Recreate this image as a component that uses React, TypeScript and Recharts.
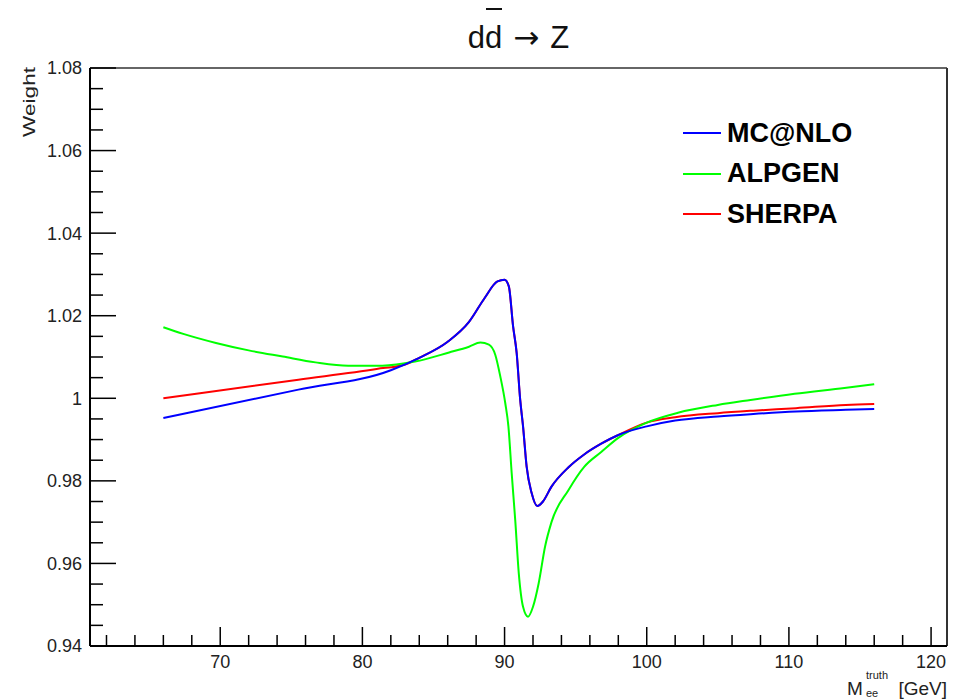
import { Legend, Line, LineChart, ReferenceLine, XAxis, YAxis } from "recharts";

const FONT = '"Liberation Sans", Arial, Helvetica, sans-serif';

const X_DOMAIN = [60.84, 121.12];
const Y_DOMAIN = [0.94, 1.08];
const X_MAJOR = [70, 80, 90, 100, 110, 120];
const X_MINOR = [62, 64, 66, 68, 72, 74, 76, 78, 82, 84, 86, 88, 92, 94, 96, 98, 102, 104, 106, 108, 112, 114, 116, 118];
const Y_MAJOR = [0.94, 0.96, 0.98, 1.0, 1.02, 1.04, 1.06, 1.08];
const Y_MINOR = [
  0.945, 0.95, 0.955, 0.965, 0.97, 0.975, 0.985, 0.99, 0.995, 1.005, 1.01, 1.015,
  1.025, 1.03, 1.035, 1.045, 1.05, 1.055, 1.065, 1.07, 1.075,
];

// MC@NLO
const MCNLO_X = [66, 75.5, 82, 84, 86, 87.5, 88.6, 89.5, 90, 90.3, 90.6, 90.85, 91.1, 91.3, 91.55, 91.9, 92.3, 92.7, 93.3, 94.5, 95.6, 96.8, 98, 100, 102, 105, 107.5, 110.5, 114, 116];
const MCNLO_Y = [0.9952, 1.0021, 1.0068, 1.0098, 1.0137, 1.0185, 1.0243, 1.0283, 1.0287, 1.0271, 1.0174, 1.011, 0.9996, 0.9932, 0.9835, 0.9771, 0.9739, 0.975, 0.9786, 0.9833, 0.9864, 0.989, 0.9911, 0.9932, 0.9946, 0.9956, 0.9962, 0.9968, 0.9972, 0.9974];

// ALPGEN
const ALPGEN_X = [66, 67.4, 69.7, 72, 74.4, 76.7, 79, 81.4, 83.7, 86.1, 87.5, 88.3, 88.9, 89.35, 89.7, 90.05, 90.27, 90.5, 90.75, 91, 91.3, 91.65, 92, 92.4, 92.85, 93.3, 94.5, 95.6, 96.8, 98, 100, 102.2, 105, 107.3, 110.4, 113.9, 116];
const ALPGEN_Y = [1.0172, 1.0156, 1.0134, 1.0116, 1.0101, 1.0087, 1.0079, 1.0079, 1.0089, 1.0111, 1.0125, 1.0135, 1.013, 1.0105, 1.0053, 0.9988, 0.9932, 0.9819, 0.9705, 0.9576, 0.9495, 0.9471, 0.9495, 0.9552, 0.9641, 0.97, 0.9778, 0.9834, 0.987, 0.9904, 0.9941, 0.9965, 0.9984, 0.9996, 1.0011, 1.0025, 1.0034];

// SHERPA (sits under MC@NLO through the peak)
const SHERPA_X = [66, 75.5, 81, 83, 84, 86, 87.5, 88.6, 89.5, 90, 90.3, 90.6, 90.85, 91.1, 91.3, 91.55, 91.9, 92.3, 92.7, 93.3, 94.5, 95.6, 96.8, 98, 100, 102, 105, 107.5, 110.5, 114, 116];
const SHERPA_Y = [1.0, 1.0045, 1.0071, 1.0082, 1.0098, 1.0137, 1.0185, 1.0243, 1.0283, 1.0287, 1.0271, 1.0174, 1.011, 0.9996, 0.9932, 0.9835, 0.9771, 0.9739, 0.975, 0.9786, 0.9833, 0.9864, 0.989, 0.9911, 0.9941, 0.9954, 0.9964, 0.997, 0.9976, 0.9984, 0.9986];

const zip = (xs: number[], ys: number[]) => xs.map((m, i) => ({ m, w: ys[i] }));

// drawn in this order: red at the bottom, blue on top
const SERIES = [
  { name: "SHERPA", color: "#ff0000", data: zip(SHERPA_X, SHERPA_Y) },
  { name: "ALPGEN", color: "#00ff00", data: zip(ALPGEN_X, ALPGEN_Y) },
  { name: "MC@NLO", color: "#0000ff", data: zip(MCNLO_X, MCNLO_Y) },
];
const LEGEND_ORDER = ["MC@NLO", "ALPGEN", "SHERPA"];

const yLabel = (v: number) => String(+v.toFixed(2));

function YTick({ x, y, payload }: any) {
  const major = Y_MAJOR.some((t) => Math.abs(t - payload.value) < 1e-9);
  return (
    <g>
      <line x1={x} x2={x + (major ? 26 : 13)} y1={y} y2={y} stroke="#000" strokeWidth={1.5} />
      {major && (
        <text x={x - 8} y={y} dy="0.36em" textAnchor="end" fontSize={18} fontFamily={FONT} fill="#222">
          {yLabel(payload.value)}
        </text>
      )}
    </g>
  );
}

function XTick({ x, y, payload }: any) {
  const major = X_MAJOR.includes(payload.value);
  return (
    <g>
      <line x1={x} x2={x} y1={y} y2={y - (major ? 19 : 11)} stroke="#000" strokeWidth={1.5} />
      {major && (
        <text x={x} y={y + 22} textAnchor="middle" fontSize={18} fontFamily={FONT} fill="#222">
          {payload.value}
        </text>
      )}
    </g>
  );
}

function XTitle({ viewBox }: any) {
  const right = viewBox.x + viewBox.width;
  const base = viewBox.y + 49;
  return (
    <g fontFamily={FONT} fill="#222">
      <text x={right - 100} y={base} fontSize={19}>M</text>
      <text x={right - 81} y={base - 16} fontSize={11}>truth</text>
      <text x={right - 81} y={base + 2} fontSize={11}>ee</text>
      <text x={right} y={base} fontSize={19} textAnchor="end">[GeV]</text>
    </g>
  );
}

function YTitle({ viewBox }: any) {
  return (
    <text
      transform={`translate(${viewBox.x + 35},${viewBox.y - 1}) rotate(-90)`}
      textAnchor="end"
      fontSize={17}
      fontFamily={FONT}
      fill="#222"
      textLength={70}
      lengthAdjust="spacingAndGlyphs"
    >
      Weight
    </text>
  );
}

function LegendBox({ payload }: any) {
  const items = LEGEND_ORDER.map((n) => (payload || []).find((p: any) => p.value === n)).filter(Boolean);
  return (
    <div style={{ fontFamily: FONT }}>
      {items.map((p: any) => (
        <div key={p.value} style={{ display: "flex", alignItems: "center", height: 40.5 }}>
          <span style={{ width: 38, height: 2, background: p.color, marginRight: 6 }} />
          <span style={{ fontSize: 27, fontWeight: 700, color: "#000" }}>{p.value}</span>
        </div>
      ))}
    </div>
  );
}

export default function App() {
  return (
    <div style={{ position: "absolute", left: 0, top: 0, width: 958, height: 699, background: "#fff" }}>
      <div
        style={{
          position: "absolute",
          left: 90,
          width: 857,
          top: 7,
          height: 60,
          textAlign: "center",
          fontFamily: FONT,
          fontSize: 31,
          color: "#111",
          lineHeight: "60px",
          whiteSpace: "nowrap",
        }}
      >
        d
        <span style={{ position: "relative" }}>
          d
          <span style={{ position: "absolute", left: 1, right: 0, top: -12, height: 0, borderTop: "2.5px solid #111" }} />
        </span>
        <span style={{ fontFamily: '"DejaVu Sans", sans-serif', margin: "0 11px" }}>→</span>Z
      </div>
      <LineChart width={958} height={699} margin={{ top: 68, right: 11, bottom: 0, left: 0 }}>
        <XAxis
          type="number"
          dataKey="m"
          domain={X_DOMAIN}
          allowDataOverflow
          ticks={[...X_MINOR, ...X_MAJOR].sort((a, b) => a - b)}
          interval={0}
          height={53}
          tickSize={0}
          tickMargin={0}
          tickLine={false}
          axisLine={{ stroke: "#000", strokeWidth: 2 }}
          tick={<XTick />}
          label={{ content: <XTitle /> }}
        />
        <YAxis
          type="number"
          domain={Y_DOMAIN}
          allowDataOverflow
          ticks={[...Y_MINOR, ...Y_MAJOR].sort((a, b) => a - b)}
          interval={0}
          width={90}
          tickSize={0}
          tickMargin={0}
          tickLine={false}
          axisLine={{ stroke: "#000", strokeWidth: 2 }}
          tick={<YTick />}
          label={{ content: <YTitle /> }}
        />
        <ReferenceLine y={Y_DOMAIN[1]} stroke="#333" strokeWidth={1.5} ifOverflow="visible" />
        <ReferenceLine x={X_DOMAIN[1]} stroke="#333" strokeWidth={2} ifOverflow="visible" />
        {SERIES.map((s) => (
          <Line
            key={s.name}
            name={s.name}
            data={s.data}
            dataKey="w"
            type="monotone"
            stroke={s.color}
            strokeWidth={2}
            dot={false}
            isAnimationActive={false}
          />
        ))}
        <Legend
          layout="vertical"
          align="center"
          verticalAlign="middle"
          content={<LegendBox />}
          wrapperStyle={{ position: "absolute", left: 683, top: 113, width: "auto" }}
        />
      </LineChart>
    </div>
  );
}
